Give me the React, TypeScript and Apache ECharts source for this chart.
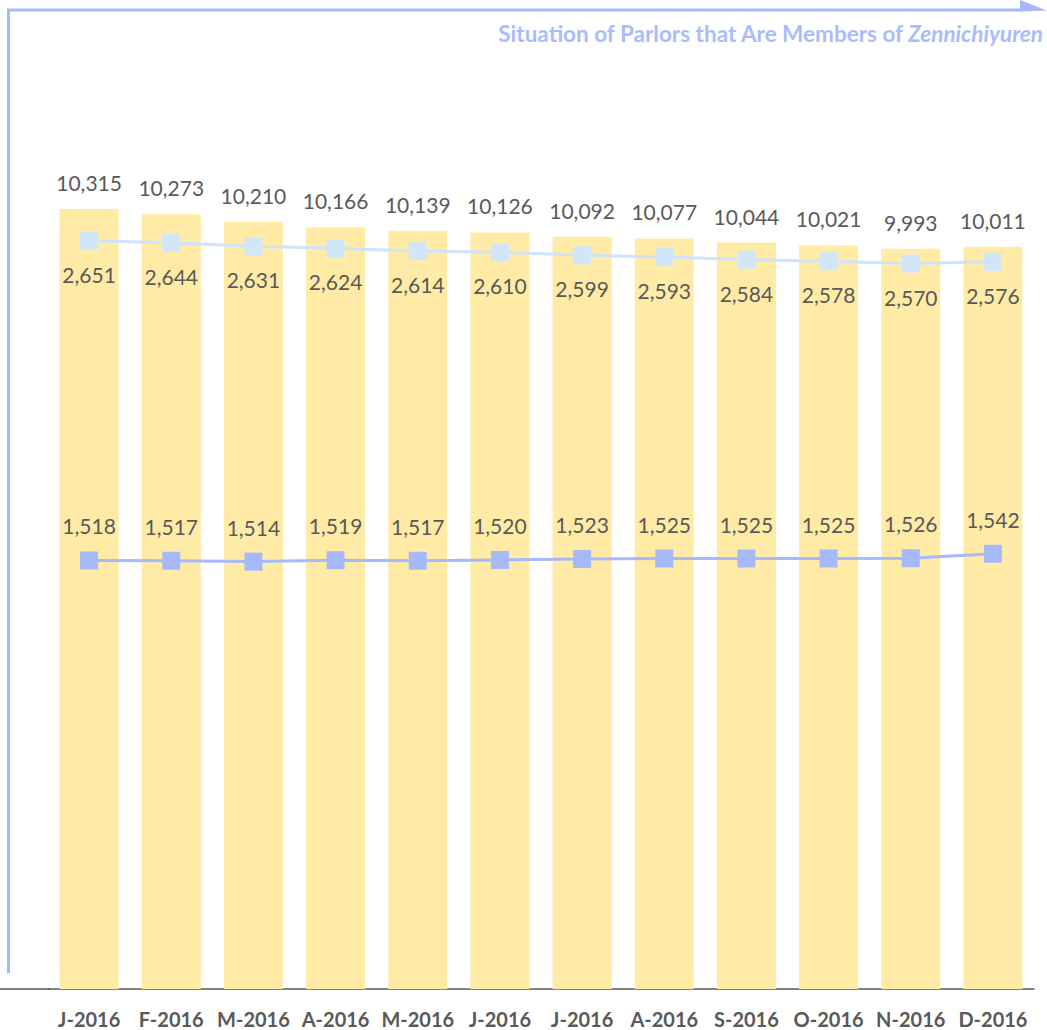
import React, { useEffect, useRef } from "react";
import * as echarts from "echarts";

const categories = ["J-2016", "F-2016", "M-2016", "A-2016", "M-2016", "J-2016", "J-2016", "A-2016", "S-2016", "O-2016", "N-2016", "D-2016"];
const parlors = [10315, 10273, 10210, 10166, 10139, 10126, 10092, 10077, 10044, 10021, 9993, 10011];
const upperLine = [2651, 2644, 2631, 2624, 2614, 2610, 2599, 2593, 2584, 2578, 2570, 2576];
const lowerLine = [1518, 1517, 1514, 1519, 1517, 1520, 1523, 1525, 1525, 1525, 1526, 1542];

const FONT = "Lato, 'Open Sans', sans-serif";
const fmt = (p: any) => Number(p.value).toLocaleString("en-US");

export default function App() {
  const ref = useRef<HTMLDivElement>(null);
  useEffect(() => {
    document.body.style.margin = "0";
    const chart = echarts.init(ref.current!, null, { renderer: "svg" });
    chart.setOption({
      animation: false,
      textStyle: { fontFamily: FONT },
      grid: { left: 48, right: 13, top: 1, bottom: 41 },
      xAxis: {
        type: "category",
        data: categories,
        axisLine: { show: true, lineStyle: { color: "#595959", width: 1.5 } },
        axisTick: { show: false },
        axisLabel: { margin: 20, color: "#595959", fontSize: 20, fontWeight: "bold", fontFamily: FONT, interval: 0 },
      },
      yAxis: [
        { type: "value", min: 4000, max: 12000, show: false, splitLine: { show: false } },
        { type: "value", min: 0, max: 3500, show: false, splitLine: { show: false } },
      ],
      series: [
        {
          type: "bar",
          data: parlors,
          barWidth: 59,
          itemStyle: { color: "#FFEBA6" },
          label: { show: true, position: "top", distance: 16, color: "#595959", fontSize: 21, fontFamily: FONT, formatter: fmt },
          z: 1,
        },
        {
          type: "line",
          yAxisIndex: 1,
          data: upperLine,
          symbol: "rect",
          symbolSize: 18,
          lineStyle: { color: "#CFE4FA", width: 3 },
          itemStyle: { color: "#D2E6FA" },
          label: { show: true, position: "bottom", distance: 14, color: "#595959", fontSize: 21, fontFamily: FONT, formatter: fmt },
          z: 3,
        },
        {
          type: "line",
          yAxisIndex: 1,
          data: lowerLine,
          symbol: "rect",
          symbolSize: 18,
          lineStyle: { color: "#A6B9FA", width: 3 },
          itemStyle: { color: "#A6B9FA" },
          label: { show: true, position: "top", distance: 15, color: "#595959", fontSize: 21, fontFamily: FONT, formatter: fmt },
          z: 3,
        },
      ],
      graphic: [
        { type: "line", shape: { x1: 0, y1: 989, x2: 50, y2: 989 }, style: { stroke: "#595959", lineWidth: 1.5 } },
        { type: "line", shape: { x1: 8.5, y1: 9, x2: 8.5, y2: 973 }, style: { stroke: "#A6B8FA", lineWidth: 3 } },
        { type: "line", shape: { x1: 7, y1: 10, x2: 1022, y2: 10 }, style: { stroke: "#A6B8FA", lineWidth: 3 } },
        { type: "polygon", shape: { points: [[1020, 0], [1047, 10.5], [1020, 11.5]] }, style: { fill: "#A6B8FA" } },
        {
          type: "text",
          x: 1043,
          y: 33,
          style: {
            text: "{a|Situation of Parlors that Are Members of }{b|Zennichiyuren}",
            align: "right",
            verticalAlign: "middle",
            rich: {
              a: { fontFamily: FONT, fontSize: 22.5, fontWeight: "bold", fill: "#A9BCFB", color: "#A9BCFB" },
              b: { fontFamily: FONT, fontSize: 22.5, fontWeight: "bold", fontStyle: "italic", fill: "#A9BCFB", color: "#A9BCFB" },
            },
          },
        },
      ],
    });
    return () => chart.dispose();
  }, []);
  return <div ref={ref} style={{ width: 1047, height: 1030, overflow: "hidden" }} />;
}
